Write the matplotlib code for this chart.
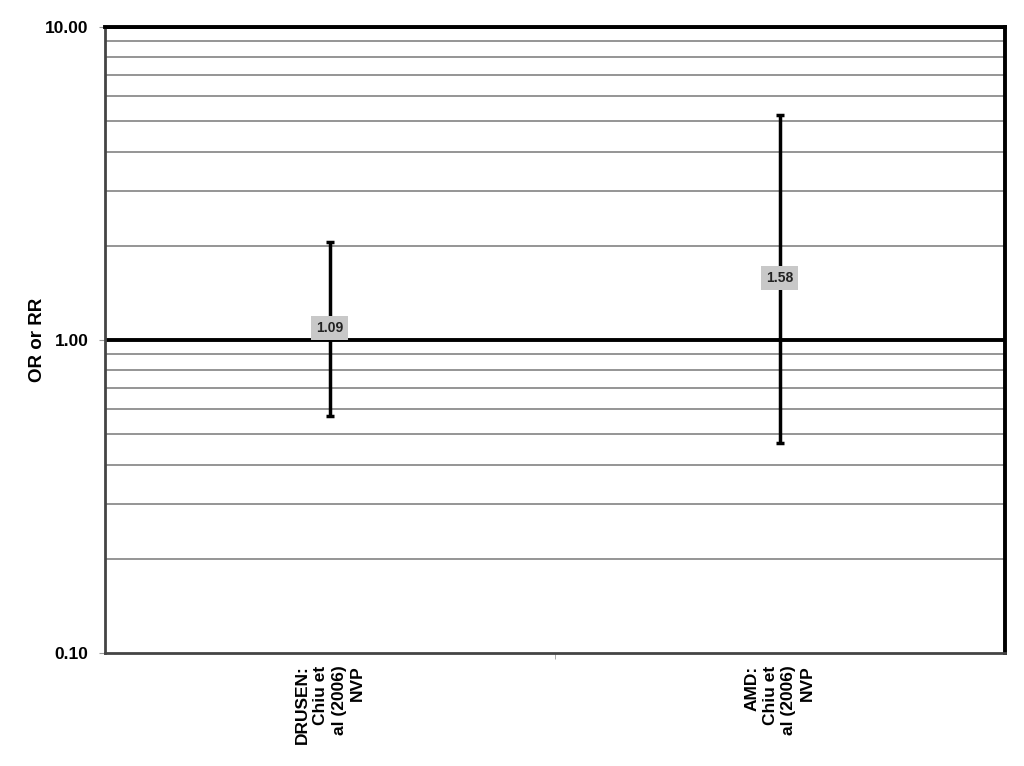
import matplotlib
matplotlib.use('Agg')
import matplotlib.pyplot as plt
import numpy as np

plt.rcParams['font.family'] = ['Liberation Sans', 'DejaVu Sans']

# data
categories = ['DRUSEN:\nChiu et\nal (2006)\nNVP', 'AMD:\nChiu et\nal (2006)\nNVP']
estimates = [1.09, 1.58]
lower_ci = [0.57, 0.47]
upper_ci = [2.06, 5.25]
y_ticks = [0.1, 1.0, 10.0]
minor_grid = [0.2, 0.3, 0.4, 0.5, 0.6, 0.7, 0.8, 0.9, 2, 3, 4, 5, 6, 7, 8, 9]

fig = plt.figure(figsize=(10.24, 7.66), dpi=100)
ax = fig.add_axes([0.1025, 0.1475, 0.8785, 0.8173])

x = np.arange(len(categories))
est = np.array(estimates)
yerr = [est - np.array(lower_ci), np.array(upper_ci) - est]

# grid lines
for g in minor_grid:
    ax.axhline(g, color='#8c8c8c', lw=1.3, zorder=1)
ax.axhline(1.0, color='black', lw=2.8, zorder=2)
ax.axhline(10.0, color='black', lw=2.8, zorder=2)

ax.errorbar(x, est, yerr=yerr, fmt='none', ecolor='black', elinewidth=2.5,
            capsize=3, capthick=2.5, zorder=3)

for xi, v in zip(x, estimates):
    ax.text(xi, v, '%.2f' % v, ha='center', va='center', fontsize=10, fontweight='bold',
            color='#222222',
            bbox=dict(boxstyle='square,pad=0.35', fc='#c8c8c8', ec='none'), zorder=4)

ax.set_yscale('log')
ax.set_ylim(0.1, 10)
ax.set_xlim(-0.5, len(categories) - 0.5)
ax.set_yticks(y_ticks)
ax.set_yticklabels(['%.2f' % t for t in y_ticks], fontsize=12.5, fontweight='bold')
ax.yaxis.set_minor_locator(matplotlib.ticker.NullLocator())
ax.tick_params(axis='y', length=4, color='#999999', pad=8)

ax.set_xticks(x)
ax.set_xticklabels(categories, rotation=90, fontsize=12.5, fontweight='bold',
                   ha='center', va='top', multialignment='right', linespacing=1.3)
ax.set_xticks([0.5], minor=True)
ax.tick_params(axis='x', which='major', length=0, pad=9)
ax.tick_params(axis='x', which='minor', length=4, color='#999999')

ax.set_ylabel('OR or RR', fontsize=13.5, fontweight='bold')
ax.yaxis.set_label_coords(-0.0656, 0.5)

ax.spines['left'].set_color('#444444')
ax.spines['left'].set_linewidth(2)
ax.spines['bottom'].set_color('#444444')
ax.spines['bottom'].set_linewidth(2)
ax.spines['right'].set_color('black')
ax.spines['right'].set_linewidth(2.8)
ax.spines['top'].set_color('black')
ax.spines['top'].set_linewidth(2.8)

fig.savefig('out.png', dpi=100)
